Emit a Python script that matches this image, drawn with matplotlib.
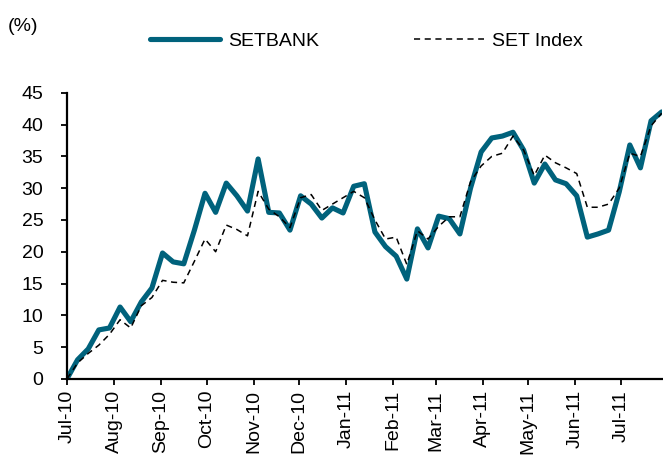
import matplotlib

matplotlib.use("Agg")
import matplotlib.dates as mdates
import numpy as np
import pandas as pd
from matplotlib import pyplot as plt

# weekly cumulative return (%)
setbank = [
    0.0, 3.0, 4.7, 7.7, 8.0, 11.3, 9.0, 12.1, 14.3, 19.8,
    18.4, 18.1, 23.4, 29.2, 26.2, 30.8, 28.8, 26.4, 34.6, 26.2,
    26.1, 23.4, 28.8, 27.5, 25.3, 26.9, 26.1, 30.3, 30.7, 23.1,
    20.8, 19.3, 15.7, 23.6, 20.6, 25.6, 25.2, 22.8, 30.0, 35.7,
    37.9, 38.2, 38.8, 36.0, 30.8, 33.8, 31.3, 30.7, 28.8, 22.3,
    22.8, 23.4, 29.4, 36.8, 33.2, 40.6, 42.0,
]
set_index = [
    0.0, 2.5, 4.0, 5.3, 7.0, 9.3, 8.0, 11.5, 12.8, 15.5,
    15.2, 15.1, 18.5, 22.0, 20.0, 24.2, 23.5, 22.5, 29.5, 26.7,
    25.5, 23.8, 28.5, 29.0, 26.5, 27.5, 28.5, 29.5, 28.5, 25.0,
    22.0, 22.3, 18.0, 23.3, 22.0, 24.0, 25.5, 25.5, 31.0, 33.5,
    35.0, 35.5, 38.2, 36.0, 32.0, 35.2, 34.0, 33.2, 32.3, 27.0,
    27.0, 27.5, 30.0, 35.5, 35.0, 39.8, 41.8,
]
dates = pd.date_range("2010-07-01", periods=len(setbank), freq="7D")
month_ticks = pd.date_range("2010-07-01", "2011-07-01", freq="MS")

TEAL = "#00627c"

plt.rcParams["font.family"] = ["Liberation Sans", "DejaVu Sans"]
plt.rcParams["font.size"] = 14

fig = plt.figure(figsize=(6.63, 4.62), dpi=100)
ax = fig.add_axes((0.101, 0.18, 0.897, 0.619))

ax.plot(dates, setbank, color=TEAL, lw=3.7, solid_capstyle="round", label="SETBANK")
ax.plot(dates, set_index, color="black", lw=1.1, ls=(0, (4, 3)), label="SET Index")

ax.set_ylim(0, 45)
ax.set_yticks(np.arange(0, 46, 5))
ax.set_xlim(dates[0], dates[-1])
ax.set_xticks(month_ticks)
ax.xaxis.set_major_formatter(mdates.DateFormatter("%b-%y"))
ax.tick_params(axis="x", rotation=90, length=4, width=1.3, pad=4)
ax.tick_params(axis="y", length=4, width=1.3, pad=13)

for side in ("top", "right"):
    ax.spines[side].set_visible(False)
for side in ("left", "bottom"):
    ax.spines[side].set_linewidth(1.6)

fig.text(0.011, 0.942, "(%)", ha="left", va="center")
fig.legend(
    loc="center",
    bbox_to_anchor=(0.553, 0.911),
    ncol=2,
    frameon=False,
    handlelength=3.6,
    handletextpad=0.4,
    columnspacing=4.9,
)

fig.savefig("out.png", dpi=100)
plt.close(fig)
